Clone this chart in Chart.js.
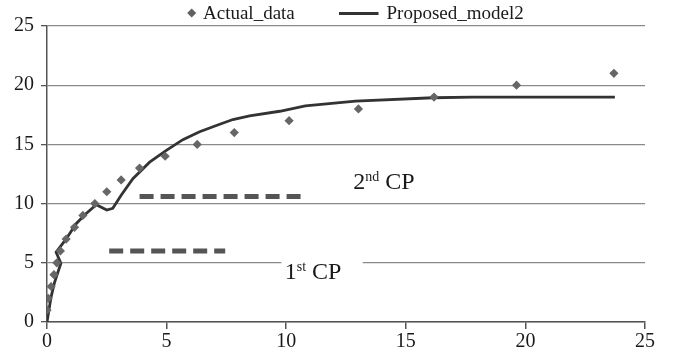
<!DOCTYPE html>
<html>
<head>
<meta charset="utf-8">
<script src="https://cdn.jsdelivr.net/npm/chart.js@4/dist/chart.umd.min.js"></script>
<style>
html,body{margin:0;padding:0;background:#fff;}
#wrap{width:676px;height:360px;position:relative;}
</style>
</head>
<body>
<div id="wrap"><canvas id="c" width="676" height="360"></canvas></div>
<script>
// ---- data ----
const actualX = [0.0, 0.05, 0.17, 0.29, 0.41, 0.56, 0.8, 1.15, 1.5, 2.0, 2.5, 3.1, 3.87, 4.94, 6.28, 7.83, 10.12, 13.02, 16.18, 19.63, 23.7];
const actualY = [1, 2, 3, 4, 5, 6, 7, 8, 9, 10, 11, 12, 13, 14, 15, 16, 17, 18, 19, 20, 21];
const modelX = [0, 0.17, 0.31, 0.58, 0.38, 0.78, 1.22, 1.57, 2.06, 2.5, 2.75, 3.1, 3.59, 4.29, 4.99, 5.68, 6.38, 7.08, 7.77, 8.47, 9.73, 10.8, 12.9, 16.14, 17.8, 23.74];
const modelY = [0, 2.1, 3.3, 4.96, 5.9, 6.95, 8.3, 9.04, 9.9, 9.46, 9.6, 10.7, 12.1, 13.5, 14.5, 15.4, 16.07, 16.6, 17.1, 17.4, 17.8, 18.25, 18.65, 18.94, 19.0, 19.0];
const cp1X = [2.6, 7.45];
const cp1Y = [6.0, 6.0];
const cp2X = [3.87, 10.8];
const cp2Y = [10.6, 10.6];
const xTicks = [0, 5, 10, 15, 20, 25];
const yTicks = [0, 5, 10, 15, 20, 25];
const seriesNames = ['Actual_data', 'Proposed_model2'];
const cpLabels = [{main: '2', sup: 'nd', rest: ' CP', x: 12.8, y: 11.2}, {main: '1', sup: 'st', rest: ' CP', x: 9.94, y: 3.6, blank: [9.8, 13.2]}];

const zip = (xs, ys) => xs.map((x, i) => ({x: x, y: ys[i]}));
const SERIF = '"Liberation Serif", "Times New Roman", serif';

const annotPlugin = {
  id: 'annot',
  beforeDatasetsDraw(chart) {
    const ctx = chart.ctx, xs = chart.scales.x, ys = chart.scales.y;
    ctx.save();
    cpLabels.forEach(l => {
      if (l.blank) {
        const gy = ys.getPixelForValue(5);
        ctx.fillStyle = '#fff';
        ctx.fillRect(xs.getPixelForValue(l.blank[0]), gy - 3, xs.getPixelForValue(l.blank[1]) - xs.getPixelForValue(l.blank[0]), 6);
      }
    });
    ctx.restore();
  },
  afterDatasetsDraw(chart) {
    const ctx = chart.ctx, xs = chart.scales.x, ys = chart.scales.y;
    ctx.save();
    ctx.fillStyle = '#1a1a1a';
    ctx.textBaseline = 'alphabetic';
    ctx.textAlign = 'left';
    cpLabels.forEach(l => {
      let px = xs.getPixelForValue(l.x), py = ys.getPixelForValue(l.y);
      ctx.font = '24px ' + SERIF;
      ctx.fillText(l.main, px, py);
      px += ctx.measureText(l.main).width;
      ctx.font = '14px ' + SERIF;
      ctx.fillText(l.sup, px, py - 8.5);
      px += ctx.measureText(l.sup).width;
      ctx.font = '24px ' + SERIF;
      ctx.fillText(l.rest, px, py);
    });
    // legend
    ctx.font = '19px ' + SERIF;
    ctx.fillStyle = '#606060';
    const dx = 191.7, dy = 13, r = 4.5;
    ctx.beginPath();
    ctx.moveTo(dx, dy - r); ctx.lineTo(dx + r, dy); ctx.lineTo(dx, dy + r); ctx.lineTo(dx - r, dy);
    ctx.closePath(); ctx.fill();
    ctx.fillStyle = '#1a1a1a';
    ctx.fillText(seriesNames[0], 203, 18.5);
    ctx.strokeStyle = '#333';
    ctx.lineWidth = 3;
    ctx.beginPath(); ctx.moveTo(339, 13.5); ctx.lineTo(378.5, 13.5); ctx.stroke();
    ctx.fillText(seriesNames[1], 386.5, 18.5);
    ctx.restore();
  }
};

new Chart(document.getElementById('c'), {
  type: 'scatter',
  data: {
    datasets: [
      {label: seriesNames[0], data: zip(actualX, actualY), pointStyle: 'rectRot', pointRadius: 4.6, backgroundColor: '#666', borderColor: '#666', borderWidth: 0, showLine: false, order: 1},
      {label: seriesNames[1], data: zip(modelX, modelY), showLine: true, pointRadius: 0, borderColor: '#333', borderWidth: 2.8, tension: 0, fill: false, order: 2},
      {label: '1st CP', data: zip(cp1X, cp1Y), showLine: true, pointRadius: 0, borderColor: '#555', borderWidth: 5, borderDash: [14, 7], fill: false, order: 3},
      {label: '2nd CP', data: zip(cp2X, cp2Y), showLine: true, pointRadius: 0, borderColor: '#555', borderWidth: 5, borderDash: [14, 7], fill: false, order: 3}
    ]
  },
  options: {
    responsive: false,
    animation: false,
    layout: {padding: {top: 26, right: 31, left: 0, bottom: 0}},
    plugins: {legend: {display: false}, tooltip: {enabled: false}},
    scales: {
      x: {
        type: 'linear', min: 0, max: 25,
        afterBuildTicks: s => { s.ticks = xTicks.map(v => ({value: v})); },
        afterFit: s => { s.height = 38; },
        ticks: {font: {family: SERIF, size: 20}, color: '#1a1a1a', padding: 1, maxRotation: 0},
        grid: {drawOnChartArea: false, drawTicks: true, tickLength: 7, color: '#555', lineWidth: 1.5},
        border: {color: '#555', width: 1.5}
      },
      y: {
        type: 'linear', min: 0, max: 25,
        afterBuildTicks: s => { s.ticks = yTicks.map(v => ({value: v})); },
        afterFit: s => { s.width = 47; },
        ticks: {font: {family: SERIF, size: 20}, color: '#1a1a1a', padding: 7},
        grid: {color: '#8a8a8a', lineWidth: 1.3, tickLength: 6, tickColor: '#555'},
        border: {color: '#555', width: 1.5}
      }
    }
  },
  plugins: [annotPlugin]
});
</script>
</body>
</html>
